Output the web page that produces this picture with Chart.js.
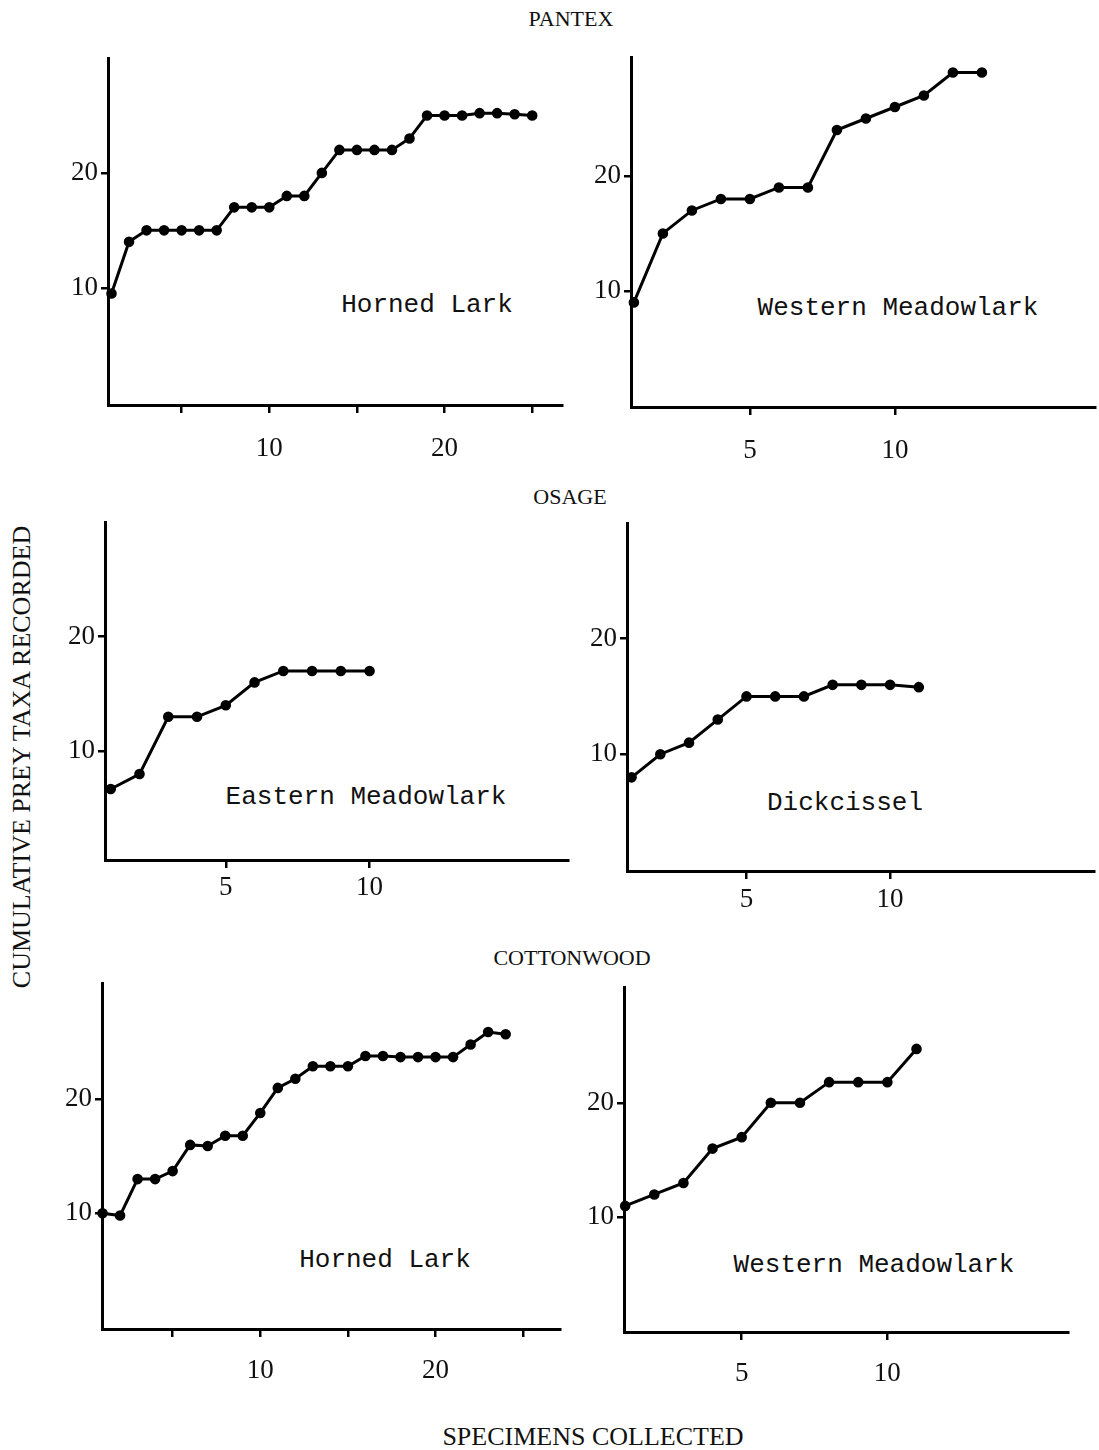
<!DOCTYPE html>
<html lang="en">
<head>
  <meta charset="UTF-8">
  <title>Cumulative Prey Taxa</title>
  <style>
    body {
      margin: 0;
      background: #fff;
      width: 1099px;
      height: 1450px;
      position: relative;
      overflow: hidden;
    }
    canvas, .txt {
      position: absolute;
    }
    .txt {
      color: #111;
      white-space: nowrap;
      transform: translate(-50%, -50%);
    }
    .title { font-family: "Liberation Serif", serif; font-size: 22px; }
    .axis-title { font-family: "Liberation Serif", serif; font-size: 26px; }
    .bird { font-family: "Liberation Mono", monospace; font-size: 26px; }
  </style>
  <script src="https://cdn.jsdelivr.net/npm/chart.js"></script>
</head>
<body>
  <div class="txt title" style="left:571px; top:19px;">PANTEX</div>
  <div class="txt title" style="left:570px; top:497px;">OSAGE</div>
  <div class="txt title" style="left:572px; top:958px;">COTTONWOOD</div>
  <div class="txt axis-title" style="left:593px; top:1437px;">SPECIMENS COLLECTED</div>
  <div class="txt axis-title" style="left:22px; top:757px; transform: translate(-50%, -50%) rotate(-90deg);">CUMULATIVE PREY TAXA RECORDED</div>

  <div class="txt bird" style="left:427px; top:305px;">Horned Lark</div>
  <div class="txt bird" style="left:898px; top:308px;">Western Meadowlark</div>
  <div class="txt bird" style="left:366px; top:797px;">Eastern Meadowlark</div>
  <div class="txt bird" style="left:845px; top:803px;">Dickcissel</div>
  <div class="txt bird" style="left:385px; top:1260px;">Horned Lark</div>
  <div class="txt bird" style="left:874px; top:1265px;">Western Meadowlark</div>

  <canvas id="p1"></canvas>
  <canvas id="p2"></canvas>
  <canvas id="p3"></canvas>
  <canvas id="p4"></canvas>
  <canvas id="p5"></canvas>
  <canvas id="p6"></canvas>

  <script>
    // specimens collected (x) and cumulative prey taxa (y)
    const pantexLarkX = [1, 2, 3, 4, 5, 6, 7, 8, 9, 10, 11, 12, 13, 14, 15, 16, 17, 18, 19, 20, 21, 22, 23, 24, 25];
    const pantexLarkY = [9.5, 14, 15, 15, 15, 15, 15, 17, 17, 17, 18, 18, 20, 22, 22, 22, 22, 23, 25, 25, 25, 25.2, 25.2, 25.1, 25];

    const pantexMeadowX = [1, 2, 3, 4, 5, 6, 7, 8, 9, 10, 11, 12, 13];
    const pantexMeadowY = [9, 15, 17, 18, 18, 19, 19, 24, 25, 26, 27, 29, 29];

    const osageEasternX = [1, 2, 3, 4, 5, 6, 7, 8, 9, 10];
    const osageEasternY = [6.7, 8, 13, 13, 14, 16, 17, 17, 17, 17];

    const osageDickX = [1, 2, 3, 4, 5, 6, 7, 8, 9, 10, 11];
    const osageDickY = [8, 10, 11, 13, 15, 15, 15, 16, 16, 16, 15.8];

    const cottonLarkX = [1, 2, 3, 4, 5, 6, 7, 8, 9, 10, 11, 12, 13, 14, 15, 16, 17, 18, 19, 20, 21, 22, 23, 24];
    const cottonLarkY = [10, 9.8, 13, 13, 13.7, 16, 15.9, 16.8, 16.8, 18.8, 21, 21.8, 22.9, 22.9, 22.9, 23.8, 23.8, 23.7, 23.7, 23.7, 23.7, 24.8, 25.9, 25.7];

    const cottonMeadowX = [1, 2, 3, 4, 5, 6, 7, 8, 9, 10, 11];
    const cottonMeadowY = [11, 12, 13, 16, 17, 20, 20, 21.8, 21.8, 21.8, 24.7];

    // tick marks and which of them carry a label
    const yTicks = [10, 20];
    const xTicksLong = [5, 10, 15, 20, 25];
    const xLabelsLong = [10, 20];
    const xTicksShort = [5, 10];
    const xLabelsShort = [5, 10];

    // axis box in page pixels: left, top, right, bottom; plus scale ranges
    const panels = [
      { id: 'p1', xs: pantexLarkX, ys: pantexLarkY, box: [108, 58, 562, 405], xr: [0.8, 26.7], yr: [-0.2, 30], ticks: xTicksLong, labels: xLabelsLong, lpad: 20 },
      { id: 'p2', xs: pantexMeadowX, ys: pantexMeadowY, box: [631, 57, 1095, 407], xr: [0.9, 16.9], yr: [-0.1, 30.35], ticks: xTicksShort, labels: xLabelsShort, lpad: 20 },
      { id: 'p3', xs: osageEasternX, ys: osageEasternY, box: [105, 522, 568, 860], xr: [0.8, 16.9], yr: [0.5, 30], ticks: xTicksShort, labels: xLabelsShort, lpad: 4 },
      { id: 'p4', xs: osageDickX, ys: osageDickY, box: [627, 523, 1094, 871], xr: [0.84, 17.1], yr: [-0.1, 30], ticks: xTicksShort, labels: xLabelsShort, lpad: 5 },
      { id: 'p5', xs: cottonLarkX, ys: cottonLarkY, box: [102, 983, 560, 1329], xr: [0.97, 27.1], yr: [-0.15, 30.2], ticks: xTicksLong, labels: xLabelsLong, lpad: 18 },
      { id: 'p6', xs: cottonMeadowX, ys: cottonMeadowY, box: [624, 987, 1068, 1332], xr: [0.96, 16.2], yr: [0, 30.1], ticks: xTicksShort, labels: xLabelsShort, lpad: 18 }
    ];

    const padLeft = 75, padTop = 8, padRight = 8, padBottom = 60;
    const tickFont = { family: 'Liberation Serif', size: 27 };

    panels.forEach(p => {
      const [l, t, r, b] = p.box;
      const canvas = document.getElementById(p.id);
      canvas.width = (r - l) + padLeft + padRight;
      canvas.height = (b - t) + padTop + padBottom;
      canvas.style.left = (l - padLeft) + 'px';
      canvas.style.top = (t - padTop) + 'px';

      new Chart(canvas, {
        type: 'scatter',
        data: {
          datasets: [{
            data: p.xs.map((x, i) => ({ x: x, y: p.ys[i] })),
            showLine: true,
            borderColor: '#000',
            backgroundColor: '#000',
            borderWidth: 3,
            pointRadius: 3.8,
            pointHoverRadius: 3.8,
            tension: 0,
            clip: false
          }]
        },
        options: {
          responsive: false,
          animation: false,
          devicePixelRatio: 1,
          layout: { padding: { top: padTop, right: padRight, left: 0, bottom: 0 } },
          plugins: { legend: { display: false }, tooltip: { enabled: false } },
          scales: {
            x: {
              type: 'linear',
              min: p.xr[0],
              max: p.xr[1],
              afterFit: s => {
                s.height = padBottom;
                s.paddingLeft = 0; s.paddingRight = 0;
              },
              afterBuildTicks: s => { s.ticks = p.ticks.map(v => ({ value: v })); },
              border: { display: true, color: '#000', width: 3 },
              grid: { drawOnChartArea: false, drawTicks: true, tickLength: 8, color: '#000', lineWidth: 2.5 },
              ticks: {
                color: '#111',
                font: tickFont,
                padding: p.lpad,
                maxRotation: 0,
                autoSkip: false,
                callback: v => p.labels.includes(v) ? String(v) : ''
              }
            },
            y: {
              type: 'linear',
              min: p.yr[0],
              max: p.yr[1],
              afterFit: s => {
                s.width = padLeft;
                s.paddingTop = 0; s.paddingBottom = 0;
              },
              afterBuildTicks: s => { s.ticks = yTicks.map(v => ({ value: v })); },
              border: { display: true, color: '#000', width: 3 },
              grid: { drawOnChartArea: false, drawTicks: true, tickLength: 7, color: '#000', lineWidth: 2.5 },
              ticks: {
                color: '#111',
                font: tickFont,
                padding: 3,
                callback: v => String(v)
              }
            }
          }
        }
      });
    });
  </script>
</body>
</html>
